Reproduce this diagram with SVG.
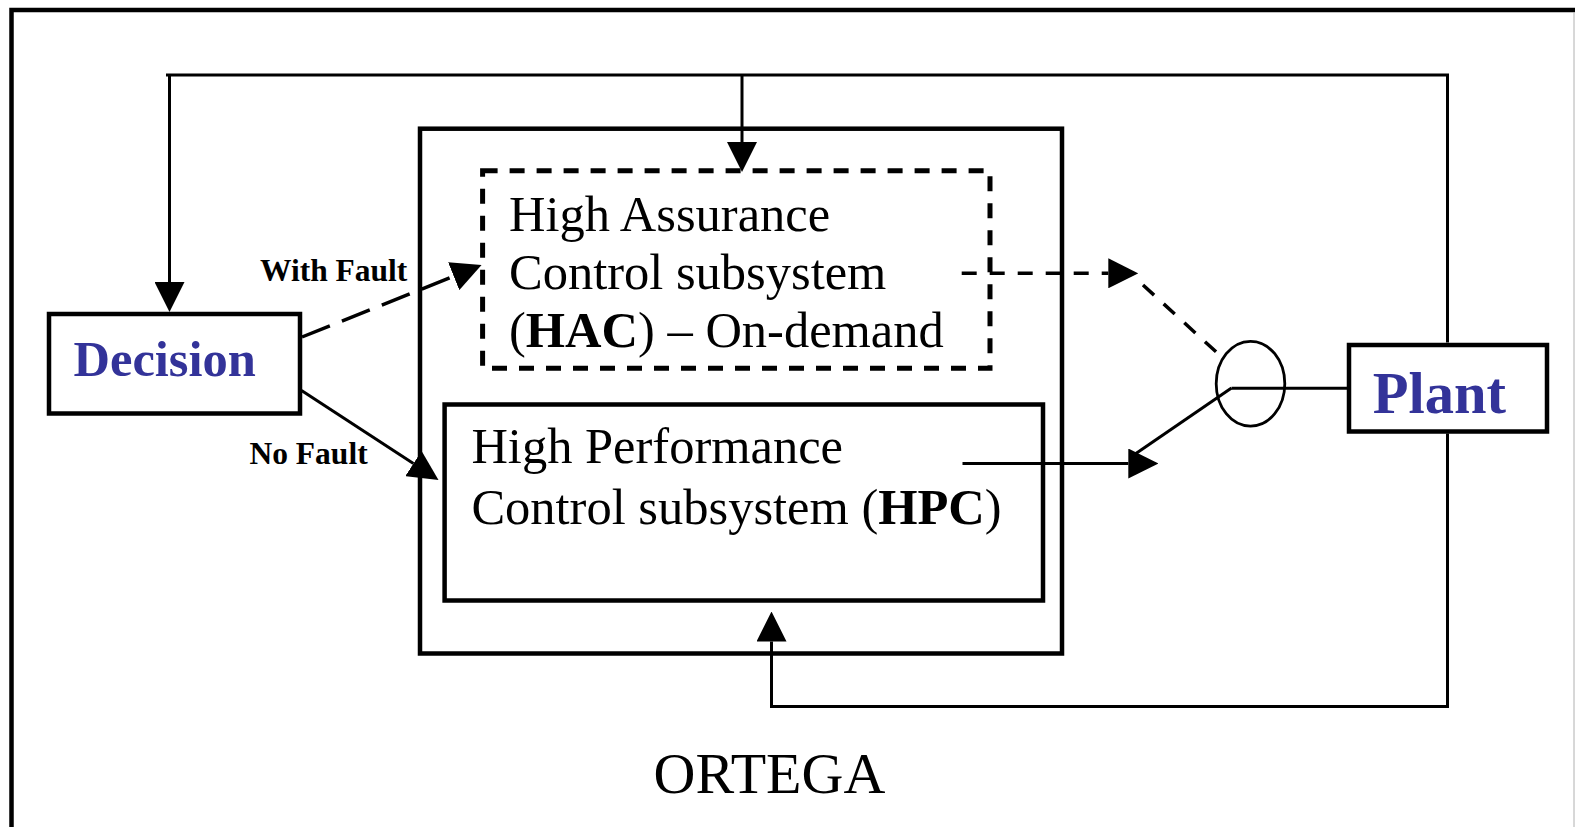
<svg xmlns="http://www.w3.org/2000/svg" width="1575" height="827" viewBox="0 0 1575 827">
<style>
  .box { fill: #ffffff; stroke: #000000; stroke-width: 4.5; }
  .dbox { fill: none; stroke: #000000; stroke-width: 5; stroke-dasharray: 15 12; }
  .wire { fill: none; stroke: #000000; stroke-width: 3; }
  .dash { fill: none; stroke: #000000; stroke-width: 3.5; stroke-dasharray: 15 13; }
  .ldash { fill: none; stroke: #000000; stroke-width: 3.5; stroke-dasharray: 30 13; }
  .arr { marker-end: url(#ah); }
  .t { font-family: "Liberation Serif", "Times New Roman", serif; fill: #000000; }
  .big { font-size: 50.5px; }
  .lab { font-size: 31.5px; font-weight: bold; }
  .blue { fill: #333399; font-weight: bold; }
</style>
<defs>
  <marker id="ah" viewBox="0 0 30 30" refX="0" refY="15" markerWidth="30" markerHeight="30" markerUnits="userSpaceOnUse" orient="auto">
    <path d="M0,0 L30,15 L0,30 Z" fill="#000000"/>
  </marker>
</defs>
<rect x="0" y="0" width="1575" height="827" fill="#ffffff"/>
<g id="frame">
  <path d="M11.5,830 V10 H1576" fill="none" stroke="#000000" stroke-width="4.5"/>
  <line x1="1574" y1="12" x2="1574" y2="827" stroke="#b0b0b0" stroke-width="1"/>
</g>
<g id="ortega">
  <rect class="box" x="420" y="128.7" width="642" height="524.8" fill="none" style="fill:none"/>
  <text class="t" x="653.6" y="793" font-size="58">ORTEGA</text>
</g>
<g id="hac">
  <rect class="dbox" x="482.6" y="170.7" width="507.4" height="197.6"/>
  <text class="t big" x="509" y="231">High Assurance</text>
  <text class="t big" x="509" y="289">Control subsystem</text>
  <text class="t big" x="509" y="347">(<tspan font-weight="bold">HAC</tspan>) – On-demand</text>
</g>
<g id="hpc">
  <rect class="box" x="444.6" y="404.5" width="598.4" height="196" style="fill:none"/>
  <text class="t big" x="471.4" y="463.3">High Performance</text>
  <text class="t big" x="471.4" y="524">Control subsystem (<tspan font-weight="bold">HPC</tspan>)</text>
</g>
<g id="decision">
  <rect class="box" x="49" y="314" width="251" height="99.5"/>
  <text class="t blue" x="73.5" y="375.7" font-size="50.5">Decision</text>
</g>
<g id="plant">
  <rect class="box" x="1349" y="345" width="198" height="86.5"/>
  <text class="t blue" x="1372.7" y="413" font-size="58.5">Plant</text>
</g>
<g id="switch">
  <ellipse cx="1250.5" cy="383.7" rx="34.3" ry="42.4" fill="none" stroke="#000000" stroke-width="2.8"/>
</g>
<g id="connectors">
  <path class="wire" d="M166,75 H1447.5 V342.5"/>
  <path class="wire arr" d="M169.5,75 V282"/>
  <path class="wire arr" d="M742,75 V142"/>
  <path class="wire arr" d="M1447.5,433.5 V706.5 H771.5 V641.5"/>
  <path class="ldash arr" d="M302,337 L453.7,276.2"/>
  <path class="wire arr" d="M301.5,390.5 L413.4,463.6"/>
  <path class="dash arr" d="M961.7,273.3 H1108.3"/>
  <path class="dash" d="M1143,285 L1217,352.7"/>
  <path class="wire arr" d="M962.5,463.5 H1128.3"/>
  <path class="wire" d="M1231.5,388 L1133,455.5"/>
  <path class="wire" d="M1231.5,388.3 H1347"/>
  <text class="t lab" x="260" y="281">With Fault</text>
  <text class="t lab" x="249.5" y="464">No Fault</text>
</g>
</svg>
